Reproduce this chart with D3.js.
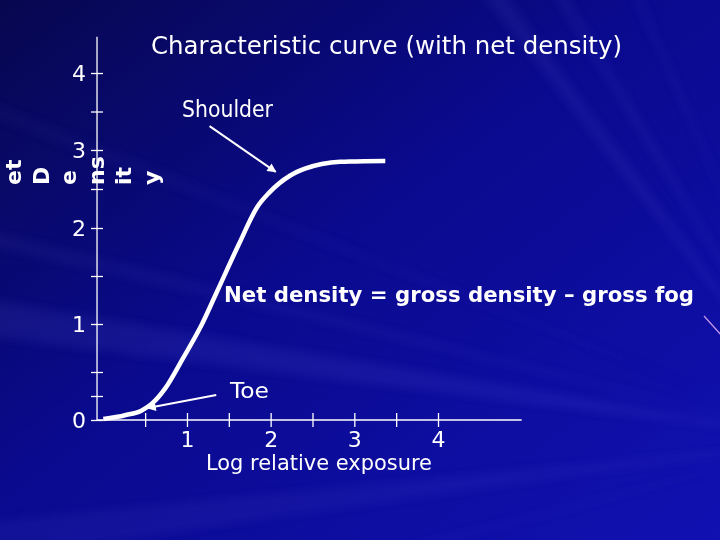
<!DOCTYPE html>
<html><head><meta charset="utf-8">
<script src="https://cdn.jsdelivr.net/npm/d3@7"></script>
<style>html,body{margin:0;padding:0;background:#0a0a80;overflow:hidden}</style>
</head><body>
<script>
// ---- data ----
const logExposure = [0, 0.26, 0.46, 0.58, 0.74, 0.95, 1.18, 1.35, 1.62, 1.84, 1.98, 2.23, 2.41, 2.61, 2.83, 3.37];
const netDensity  = [0.01, 0.05, 0.10, 0.17, 0.33, 0.64, 1.00, 1.32, 1.83, 2.27, 2.45, 2.67, 2.76, 2.82, 2.85, 2.86];
const yTickValues = [0, 1, 2, 3, 4];
const yTickLabels = ["0", "1", "2", "3", "4"];
const yMinorTicks = [0.25, 0.5, 1.5, 2.5, 3.5];
const xTickValues = [0.5, 1, 1.5, 2, 2.5, 3, 3.5, 4];
const xTickLabels = ["", "1", "", "2", "", "3", "", "4"];
const yLabelChunks = ["et", "D", "e", "ns", "it", "y"];
const titleText = "Characteristic curve (with net density)";
const xAxisTitle = "Log relative exposure";
const noteText = "Net density = gross density \u2013 gross fog";
const arrowLabels = ["Shoulder", "Toe"];
const arrowFrom = [[1.27, 3.31], [1.35, 0.26]];
const arrowTo   = [[2.06, 2.72], [0.53, 0.125]];

// ---- setup ----
const W = 720, H = 540;
const svg = d3.select("body").append("svg").attr("width", W).attr("height", H);
const defs = svg.append("defs");

const bg = defs.append("linearGradient").attr("id", "bg")
  .attr("x1", 0).attr("y1", 0).attr("x2", 1).attr("y2", 1);
bg.append("stop").attr("offset", 0).attr("stop-color", "#07074f");
bg.append("stop").attr("offset", 0.45).attr("stop-color", "#0a0a8e");
bg.append("stop").attr("offset", 1).attr("stop-color", "#1111b2");
svg.append("rect").attr("width", W).attr("height", H).attr("fill", "url(#bg)");

// decorative light rays
defs.append("filter").attr("id", "blur").attr("x", "-20%").attr("y", "-20%").attr("width", "140%").attr("height", "140%")
  .append("feGaussianBlur").attr("stdDeviation", 5);
const focus = [830, 440];
const rayAngles = [[232, 234, 0.07], [238, 239.5, 0.06], [246, 247, 0.05], [187, 189.5, 0.09], [193, 194, 0.06], [172, 174.5, 0.06], [165, 166, 0.05], [201, 202, 0.04]];
const rays = svg.append("g").attr("filter", "url(#blur)");
rayAngles.forEach(([a0, a1, op]) => {
  const L = 1400, r = Math.PI / 180;
  const p = [focus, [focus[0] + L * Math.cos(a0 * r), focus[1] + L * Math.sin(a0 * r)], [focus[0] + L * Math.cos(a1 * r), focus[1] + L * Math.sin(a1 * r)]];
  rays.append("path").attr("d", d3.line()(p) + "Z").attr("fill", "#8a8aff").attr("opacity", op);
});
svg.append("line").attr("x1", 704).attr("y1", 316).attr("x2", 722).attr("y2", 336)
  .attr("stroke", "#c79ae8").attr("stroke-width", 1.2);

// ---- scales ----
const x = d3.scaleLinear().domain([0, 4]).range([103.3, 438]);
const y = d3.scaleLinear().domain([0, 1, 2, 3, 4]).range([420, 324, 228, 150, 73]);
const axisX0 = x(-0.075);

const font = "'DejaVu Sans', Verdana, sans-serif";

// ---- y axis ----
const gy = svg.append("g").attr("transform", `translate(${axisX0},0)`);
gy.append("line").attr("x1", 0).attr("x2", 0).attr("y1", y(0)).attr("y2", y(4.47))
  .attr("stroke", "#fff").attr("stroke-width", 1.3);
const yAxis = d3.axisLeft(y).tickValues(yTickValues).tickFormat((d, i) => yTickLabels[i]).tickSize(6).tickPadding(5);
const yA = gy.append("g").call(yAxis);
yA.select(".domain").remove();
yA.selectAll(".tick line").attr("x1", -6).attr("x2", 6).attr("stroke", "#fff").attr("stroke-width", 1.3);
yA.selectAll(".tick text").attr("fill", "#fff").attr("font-family", font).attr("font-size", 22).attr("dy", "0.36em");
const yM = gy.append("g").call(d3.axisLeft(y).tickValues(yMinorTicks).tickFormat(""));
yM.select(".domain").remove();
yM.selectAll(".tick line").attr("x1", -6).attr("x2", 6).attr("stroke", "#fff").attr("stroke-width", 1.3);

// ---- x axis ----
const gx = svg.append("g").attr("transform", `translate(0,${y(0)})`);
gx.append("line").attr("x1", axisX0).attr("x2", x(5)).attr("y1", 0).attr("y2", 0)
  .attr("stroke", "#fff").attr("stroke-width", 1.3);
const xA = gx.append("g").call(d3.axisBottom(x).tickValues(xTickValues).tickFormat((d, i) => xTickLabels[i]));
xA.select(".domain").remove();
xA.selectAll(".tick line").attr("y1", -7).attr("y2", 7).attr("stroke", "#fff").attr("stroke-width", 1.3);
xA.selectAll(".tick text").attr("fill", "#fff").attr("font-family", font).attr("font-size", 22)
  .attr("y", 27).attr("dy", 0);

// ---- curve ----
const pts = logExposure.map((v, i) => [v, netDensity[i]]);
svg.append("path").datum(pts)
  .attr("d", d3.line().x(d => x(d[0])).y(d => y(d[1])).curve(d3.curveMonotoneX))
  .attr("fill", "none").attr("stroke", "#fff").attr("stroke-width", 4.5).attr("stroke-linecap", "butt");

// ---- arrows ----
defs.append("marker").attr("id", "ah").attr("viewBox", "0 0 10 10").attr("refX", 9).attr("refY", 5)
  .attr("markerWidth", 5).attr("markerHeight", 4.5).attr("orient", "auto").attr("markerUnits", "strokeWidth")
  .append("path").attr("d", "M0,0L10,5L0,10Z").attr("fill", "#fff");
arrowFrom.forEach((f, i) => {
  svg.append("line").attr("x1", x(f[0])).attr("y1", y(f[1])).attr("x2", x(arrowTo[i][0])).attr("y2", y(arrowTo[i][1]))
    .attr("stroke", "#fff").attr("stroke-width", 2).attr("marker-end", "url(#ah)");
});

// ---- texts ----
function txt(t, px, py, size, len, weight) {
  return svg.append("text").attr("x", px).attr("y", py).attr("fill", "#fff").attr("font-family", font)
    .attr("font-size", size).attr("font-weight", weight || "normal")
    .attr("textLength", len).attr("lengthAdjust", "spacingAndGlyphs").text(t);
}
txt(titleText, 151, 54, 25, 471);
txt(arrowLabels[0], 182, 117, 23, 91);
txt(arrowLabels[1], 230, 398, 22, 39);
txt(noteText, 224, 302, 22, 470, "bold");
txt(xAxisTitle, 206, 470, 22, 226);

// broken vertical y-axis title
yLabelChunks.forEach((c, i) => {
  const bx = 21 + 27.6 * i;
  svg.append("text").attr("transform", `translate(${bx},185) rotate(-90)`)
    .attr("fill", "#fff").attr("font-family", font).attr("font-weight", "bold").attr("font-size", 22).text(c);
});
</script>
</body></html>
